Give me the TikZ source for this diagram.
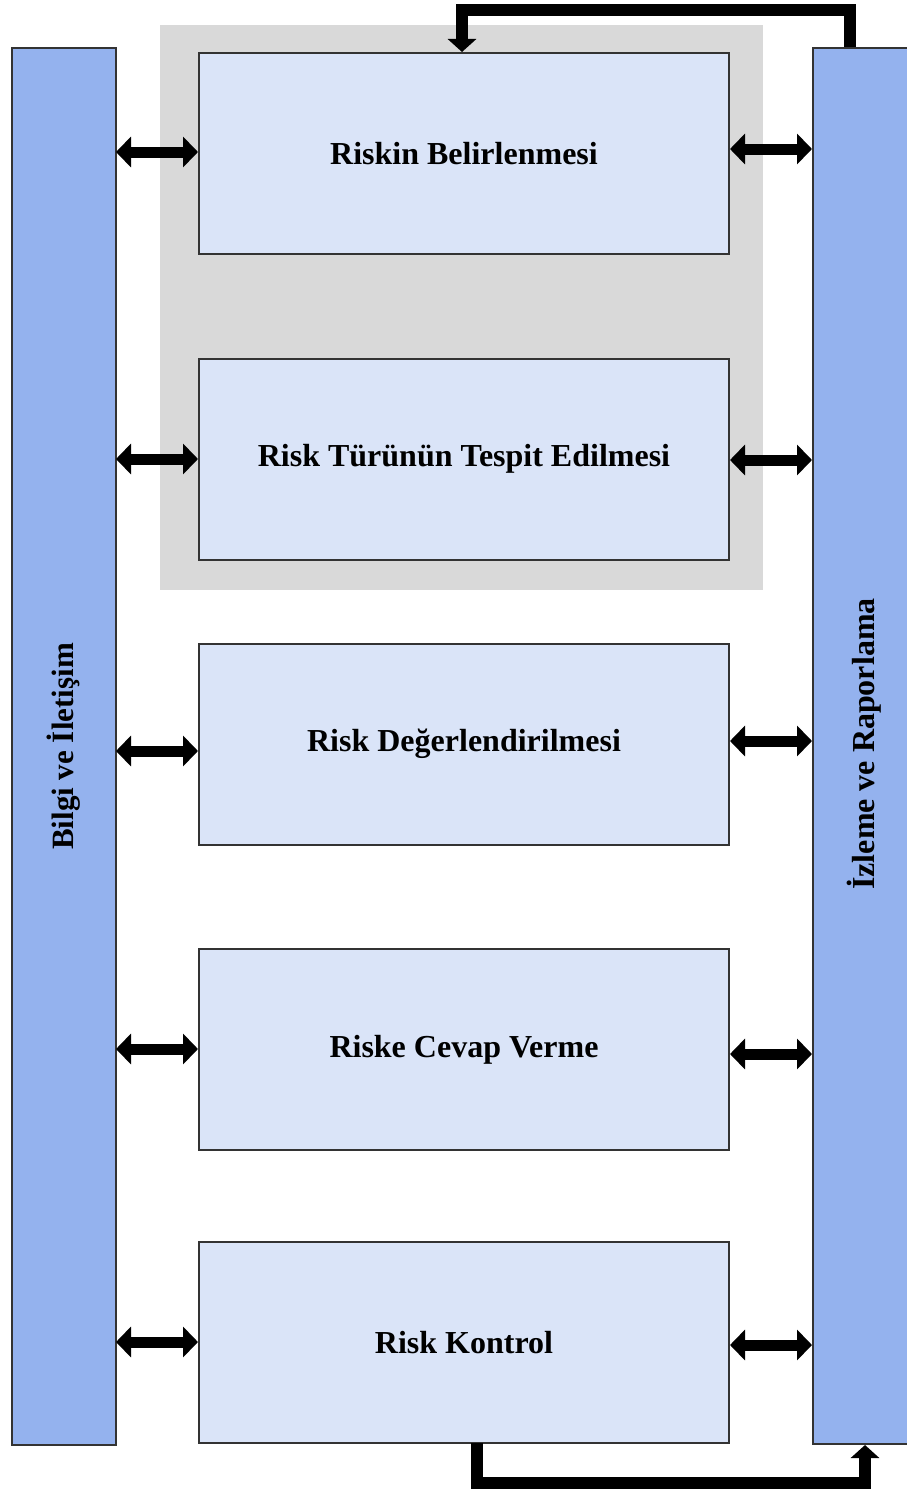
\documentclass[tikz,border=0pt]{standalone}
\usepackage{fontspec}
\setmainfont{Liberation Serif}
\usetikzlibrary{arrows.meta}
\definecolor{barblue}{HTML}{94B2EE}
\definecolor{boxblue}{HTML}{DAE4F8}
\definecolor{grayback}{HTML}{D9D9D9}
\definecolor{edge}{HTML}{333333}
\tikzset{
  stepbox/.style={draw=edge, line width=2pt, fill=boxblue, minimum width=530pt, minimum height=201pt, inner sep=0pt, font=\fontsize{32}{38}\selectfont\bfseries},
  sidebar/.style={draw=edge, line width=2pt, fill=barblue, inner sep=0pt},
  sidelabel/.style={rotate=90, font=\fontsize{31}{36}\selectfont\bfseries},
  dbl/.style={line width=11pt, {Triangle[width=30pt,length=15pt]}-{Triangle[width=30pt,length=15pt]}},
  fb/.style={line width=12pt, -{Triangle[width=28pt,length=13pt]}},
}
\begin{document}
\begin{tikzpicture}[x=1pt,y=-1pt]
\useasboundingbox (0,0) rectangle (907,1493);
\begin{scope}
\clip (0,0) rectangle (907,1493);
\fill[grayback] (160,25) rectangle (763,590);
\node[sidebar, minimum width=104pt, minimum height=1397pt] (L) at (64,746.5) {};
\node[sidebar, minimum width=104pt, minimum height=1396pt, anchor=north west] (R) at (812,47) {};
\end{scope}
\node[sidelabel] at (L.center) {Bilgi ve İletişim};
\node[sidelabel, font=\fontsize{32}{38}\selectfont\bfseries] at (864,744) {İzleme ve Raporlama};
\node[stepbox] (b1) at (464,153.5) {Riskin Belirlenmesi};
\node[stepbox] (b2) at (464,459) {Risk Türünün Tespit Edilmesi};
\node[stepbox] (b3) at (464,744) {Risk Değerlendirilmesi};
\node[stepbox] (b4) at (464,1049.5) {Riske Cevap Verme};
\node[stepbox] (b5) at (464,1342.5) {Risk Kontrol};
\coordinate (lx) at (116,0);
\coordinate (rx) at (812,0);
\draw[dbl] (lx |- 0,152) -- (b1.west |- 0,152);
\draw[dbl] (lx |- 0,459) -- (b2.west |- 0,459);
\draw[dbl] (lx |- 0,751) -- (b3.west |- 0,751);
\draw[dbl] (lx |- 0,1049) -- (b4.west |- 0,1049);
\draw[dbl] (lx |- 0,1342) -- (b5.west |- 0,1342);
\draw[dbl] (b1.east |- 0,149) -- (rx |- 0,149);
\draw[dbl] (b2.east |- 0,460) -- (rx |- 0,460);
\draw[dbl] (b3.east |- 0,741) -- (rx |- 0,741);
\draw[dbl] (b4.east |- 0,1054) -- (rx |- 0,1054);
\draw[dbl] (b5.east |- 0,1345) -- (rx |- 0,1345);
\coordinate (t1) at (850,47);
\coordinate (t2) at (850,10);
\coordinate (t3) at (462,10);
\draw[fb] (t1) -- (t2) -- (t3) -- (t3 |- b1.north);
\coordinate (u1) at (477,1443);
\coordinate (u2) at (477,1483);
\coordinate (u3) at (865,1483);
\draw[fb] (u1) -- (u2) -- (u3) -- (u3 |- R.south);
\end{tikzpicture}
\end{document}
